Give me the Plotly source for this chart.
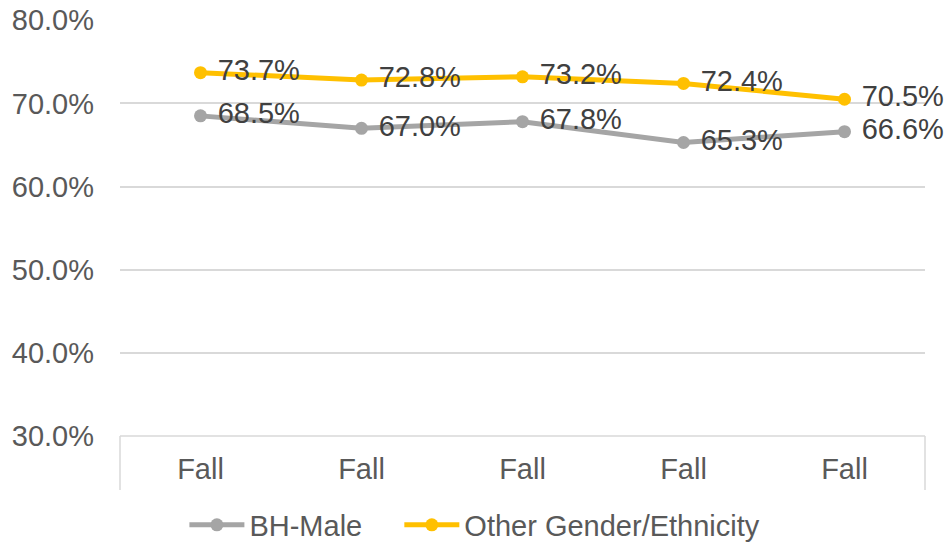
import plotly.graph_objects as go

categories = ["Fall 1", "Fall 2", "Fall 3", "Fall 4", "Fall 5"]
tick_labels = ["Fall", "Fall", "Fall", "Fall", "Fall"]
bh_male = [68.5, 67.0, 67.8, 65.3, 66.6]
other = [73.7, 72.8, 73.2, 72.4, 70.5]
y_ticks = [30, 40, 50, 60, 70, 80]

FONT = "Liberation Sans, Arial, sans-serif"
fig = go.Figure()
for name, vals, color, leg in [("BH-Male", bh_male, "#A5A5A5", "legend"),
                               ("Other Gender/Ethnicity", other, "#FFC000", "legend2")]:
    fig.add_trace(go.Scatter(
        x=list(range(len(categories))), y=vals, name=name,
        mode="lines+markers+text",
        line=dict(color=color, width=5),
        marker=dict(color=color, size=13),
        text=[f" {v:.1f}%" for v in vals],
        textposition="middle right",
        textfont=dict(family=FONT, size=29, color="#404040"),
        cliponaxis=False,
        legend=leg,
    ))

leg_common = dict(orientation="h", y=-0.214, yanchor="middle", xanchor="left",
                  itemwidth=55, font=dict(size=29, color="#595959"),
                  bgcolor="rgba(0,0,0,0)")
fig.update_layout(
    width=949, height=543,
    margin=dict(l=120, r=24, t=20, b=107, autoexpand=False),
    paper_bgcolor="white", plot_bgcolor="white",
    font=dict(family=FONT, size=29, color="#595959"),
    showlegend=True,
    legend=dict(x=0.08, **leg_common),
    legend2=dict(x=0.347, **leg_common),
    xaxis=dict(range=[-0.5, 4.5], tickvals=list(range(len(categories))),
               ticktext=tick_labels, showgrid=False, zeroline=False,
               showline=False, ticks="", ticklabelstandoff=13,
               automargin=False,
               tickfont=dict(size=29, color="#595959")),
    yaxis=dict(range=[30, 80.03], tickvals=y_ticks,
               ticktext=[f"{v:.1f}%" for v in y_ticks],
               showgrid=True, gridcolor="#D9D9D9", gridwidth=1.5,
               zeroline=False, showline=False, ticks="",
               ticklabelstandoff=25, automargin=False,
               tickfont=dict(size=29, color="#595959")),
)
for xp in [0, 1]:
    fig.add_shape(type="line", xref="paper", yref="paper",
                  x0=xp, x1=xp, y0=0, y1=-0.13,
                  line=dict(color="#D9D9D9", width=1.5))
fig.add_shape(type="line", xref="paper", yref="paper", x0=0, x1=1, y0=0, y1=0,
              line=dict(color="#D9D9D9", width=1.5))

fig.write_html("out.html",
               config={"displayModeBar": False},
               post_script="document.body.style.margin='0';"
                           "document.body.style.overflow='hidden';")
